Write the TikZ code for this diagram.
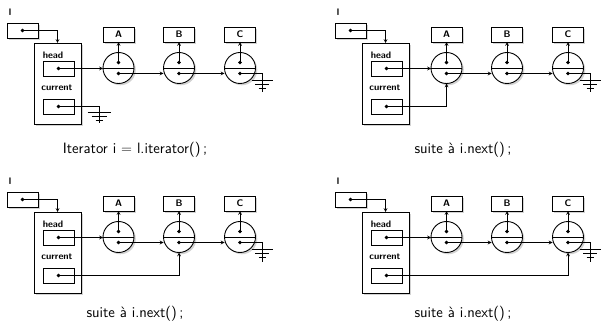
\documentclass[tikz,border=0pt]{standalone}
\usetikzlibrary{positioning}
\usetikzlibrary{arrows}
\usetikzlibrary{shadows}
\tikzset{>=stealth}
\tikzset{
  boite/.style={draw, fill=white, line width=0.9pt, inner sep=0pt, outer sep=0pt,
    drop shadow={shadow xshift=1.8pt, shadow yshift=-1.8pt, opacity=0.35}},
  champ/.style={draw, line width=0.7pt, minimum width=31pt, minimum height=15pt,
    inner sep=0pt, outer sep=0pt},
  valeur/.style={boite, minimum width=31pt, minimum height=15pt, font=\etiq},
  maillon/.style={boite, circle, minimum size=31pt},
  etiq/.style={inner sep=0pt, font=\etiq},
  legende/.style={anchor=base, inner sep=0pt, font=\sffamily\fontsize{15}{18}\selectfont},
  lien/.style={line width=0.7pt}
}
\newcommand{\etiq}{\sffamily\bfseries\fontsize{9.5}{10}\selectfont}

\begin{document}
\begin{tikzpicture}[x=1pt, y=-1pt]
\useasboundingbox (0,0) rectangle (601,328);
\foreach \i/\dx/\dy in {1/0/0, 2/328/0, 3/0/169, 4/328/169} {
\begin{scope}[shift={(\dx,\dy)}]
% la variable l et l'iterateur
\node[etiq] (nom\i) at (10,12) {l};
\node[boite, minimum width=31pt, minimum height=15pt] (l\i) at (22.5,30.5) {};
\node[boite, minimum width=47pt, minimum height=81pt] (it\i) at (57.5,83.5) {};
\node[etiq] (lhead\i) at (53,55) {head};
\node[champ] (head\i) at (58.5,68.5) {};
\node[etiq] (lcur\i) at (57,88) {current};
\node[champ] (cur\i) at (58.5,106.5) {};
% les maillons
\node[maillon] (nA\i) at (118.5,68) {};
\node[maillon] (nB\i) at (179,68) {};
\node[maillon] (nC\i) at (240,68) {};
\node[valeur] (vA\i) at (118.5,34.5) {A};
\node[valeur] (vB\i) at (179,34.5) {B};
\node[valeur] (vC\i) at (240,34.5) {C};
\draw[lien] (nA\i.west) -- (nA\i.east);
\draw[lien] (nB\i.west) -- (nB\i.east);
\draw[lien] (nC\i.west) -- (nC\i.east);
\coordinate (uA\i) at (118.5,62.5);
\coordinate (uB\i) at (179,62.5);
\coordinate (uC\i) at (240,62.5);
\coordinate (dA\i) at (118.5,73.5);
\coordinate (dB\i) at (179,73.5);
\coordinate (dC\i) at (240,73.5);
% pointeurs
\draw[lien, ->] (l\i.center) -| (it\i.north);
\draw[lien, ->] (head\i.center) -- (head\i.center -| nA\i.west);
\draw[lien, ->] (uA\i) -- (vA\i.south);
\draw[lien, ->] (uB\i) -- (vB\i.south);
\draw[lien, ->] (uC\i) -- (vC\i.south);
\draw[lien, ->] (dA\i) -- (dA\i -| nB\i.west);
\draw[lien, ->] (dB\i) -- (dB\i -| nC\i.west);
\draw[lien] (dC\i) -- ++(22,0) coordinate (gC\i) -- ++(0,19);
\draw[lien] (gC\i) ++(-10.5,7) -- ++(21,0) (gC\i) ++(-7,11) -- ++(14,0)
  (gC\i) ++(-3.5,15) -- ++(7,0);
\filldraw (l\i.center) circle (1.6pt);
\filldraw (head\i.center) circle (1.6pt);
\filldraw (cur\i.center) circle (1.6pt);
\filldraw (uA\i) circle (1.6pt);
\filldraw (uB\i) circle (1.6pt);
\filldraw (uC\i) circle (1.6pt);
\filldraw (dA\i) circle (1.6pt);
\filldraw (dB\i) circle (1.6pt);
\filldraw (dC\i) circle (1.6pt);
\end{scope}
}
% current
\draw[lien] (cur1.center) -- ++(40.5,0) coordinate (g0) -- ++(0,17);
\draw[lien] (g0) ++(-11.5,6) -- ++(23,0) (g0) ++(-7.5,10) -- ++(15,0)
  (g0) ++(-3.5,14) -- ++(7,0);
\draw[lien, ->] (cur2.center) -| (nA2.south);
\draw[lien, ->] (cur3.center) -| (nB3.south);
\draw[lien, ->] (cur4.center) -| (nC4.south);
% legendes
\node[legende] (cap1) at (135,154) {Iterator i $=$ l.iterator()\,;};
\node[legende] (cap2) at (463,154) {suite \`a i.next()\,;};
\node[legende] (cap3) at (135,317) {suite \`a i.next()\,;};
\node[legende] (cap4) at (463,317) {suite \`a i.next()\,;};
\end{tikzpicture}
\end{document}
